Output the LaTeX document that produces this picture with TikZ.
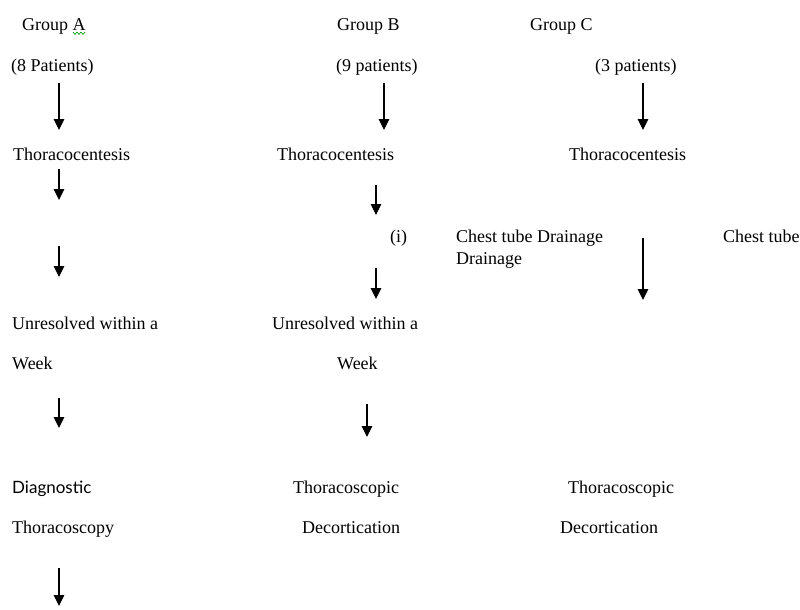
\documentclass[tikz,border=0pt]{standalone}
\usepackage{fontspec}
\setmainfont{Liberation Serif}
\newfontfamily\flowfont{Liberation Serif}
\newfontfamily\diagfont{Lato}
\usetikzlibrary{arrows.meta}

\tikzset{
  lbl/.style={anchor=base west, inner sep=0pt, font=\flowfont\fontsize{18}{22}\selectfont},
  flow/.style={-{Triangle[width=10.5pt,length=11pt]}, line width=1.2pt}
}

\begin{document}
\begin{tikzpicture}[x=1pt, y=-1pt]

    \useasboundingbox (0,0) rectangle (800,610);

    % Group A
    \node[lbl] (grpA)   at (22,31)  {Group A};
    \draw[green!60!black, line width=0.6pt] (73,32) -- (75,34.5) -- (77,32) -- (79,34.5) -- (81,32) -- (83,34.5) -- (85,32);
    \node[lbl] (patA)   at (11,71)  {(8 Patients)};
    \node[lbl] (thorA)  at (13,160) {Thoracocentesis};
    \node[lbl] (unresA) at (12,329) {Unresolved within a};
    \node[lbl] (weekA)  at (12,369) {Week};
    \node[lbl, font=\diagfont\fontsize{17}{22}\selectfont] (diagA) at (12,493) {Diagnostic};
    \node[lbl] (scopyA) at (12,533) {Thoracoscopy};

    % Group B
    \node[lbl] (grpB)   at (337,31)  {Group B};
    \node[lbl] (patB)   at (336,71)  {(9 patients)};
    \node[lbl] (thorB)  at (277,160) {Thoracocentesis};
    \node[lbl] (iB)     at (390,242) {(i)};
    \node[lbl] (unresB) at (272,329) {Unresolved within a};
    \node[lbl] (weekB)  at (337,369) {Week};
    \node[lbl] (scopB)  at (293,493) {Thoracoscopic};
    \node[lbl] (decB)   at (302,533) {Decortication};

    % Group C
    \node[lbl] (grpC)   at (530,31)  {Group C};
    \node[lbl] (patC)   at (595,71)  {(3 patients)};
    \node[lbl] (thorC)  at (569,160) {Thoracocentesis};
    \node[lbl] (drainC) at (456,242) {Chest tube Drainage};
    \node[lbl] (drainD) at (456,264) {Drainage};
    \node[lbl] (tubeC)  at (723,242) {Chest tube};
    \node[lbl] (scopC)  at (568,493) {Thoracoscopic};
    \node[lbl] (decC)   at (560,533) {Decortication};

    % arrow ends
    \coordinate (a1s) at (59,83);   \coordinate (a1e) at (59,130);
    \coordinate (a2s) at (59,169);  \coordinate (a2e) at (59,200);
    \coordinate (a3s) at (59,246);  \coordinate (a3e) at (59,277);
    \coordinate (a4s) at (59,398);  \coordinate (a4e) at (59,428);
    \coordinate (a5s) at (59,568);  \coordinate (a5e) at (59,606);
    \coordinate (b1s) at (384,83);  \coordinate (b1e) at (384,130);
    \coordinate (b2s) at (376,185); \coordinate (b2e) at (376,215);
    \coordinate (b3s) at (376,268); \coordinate (b3e) at (376,299);
    \coordinate (b4s) at (367,404); \coordinate (b4e) at (367,437);
    \coordinate (c1s) at (643,83);  \coordinate (c1e) at (643,130);
    \coordinate (c2s) at (643,238); \coordinate (c2e) at (643,300);

    % arrows
    \foreach \a in {a1,a2,a3,a4,a5,b1,b2,b3,b4,c1,c2}
      \draw[flow] (\a s) -- (\a e);

\end{tikzpicture}
\end{document}
